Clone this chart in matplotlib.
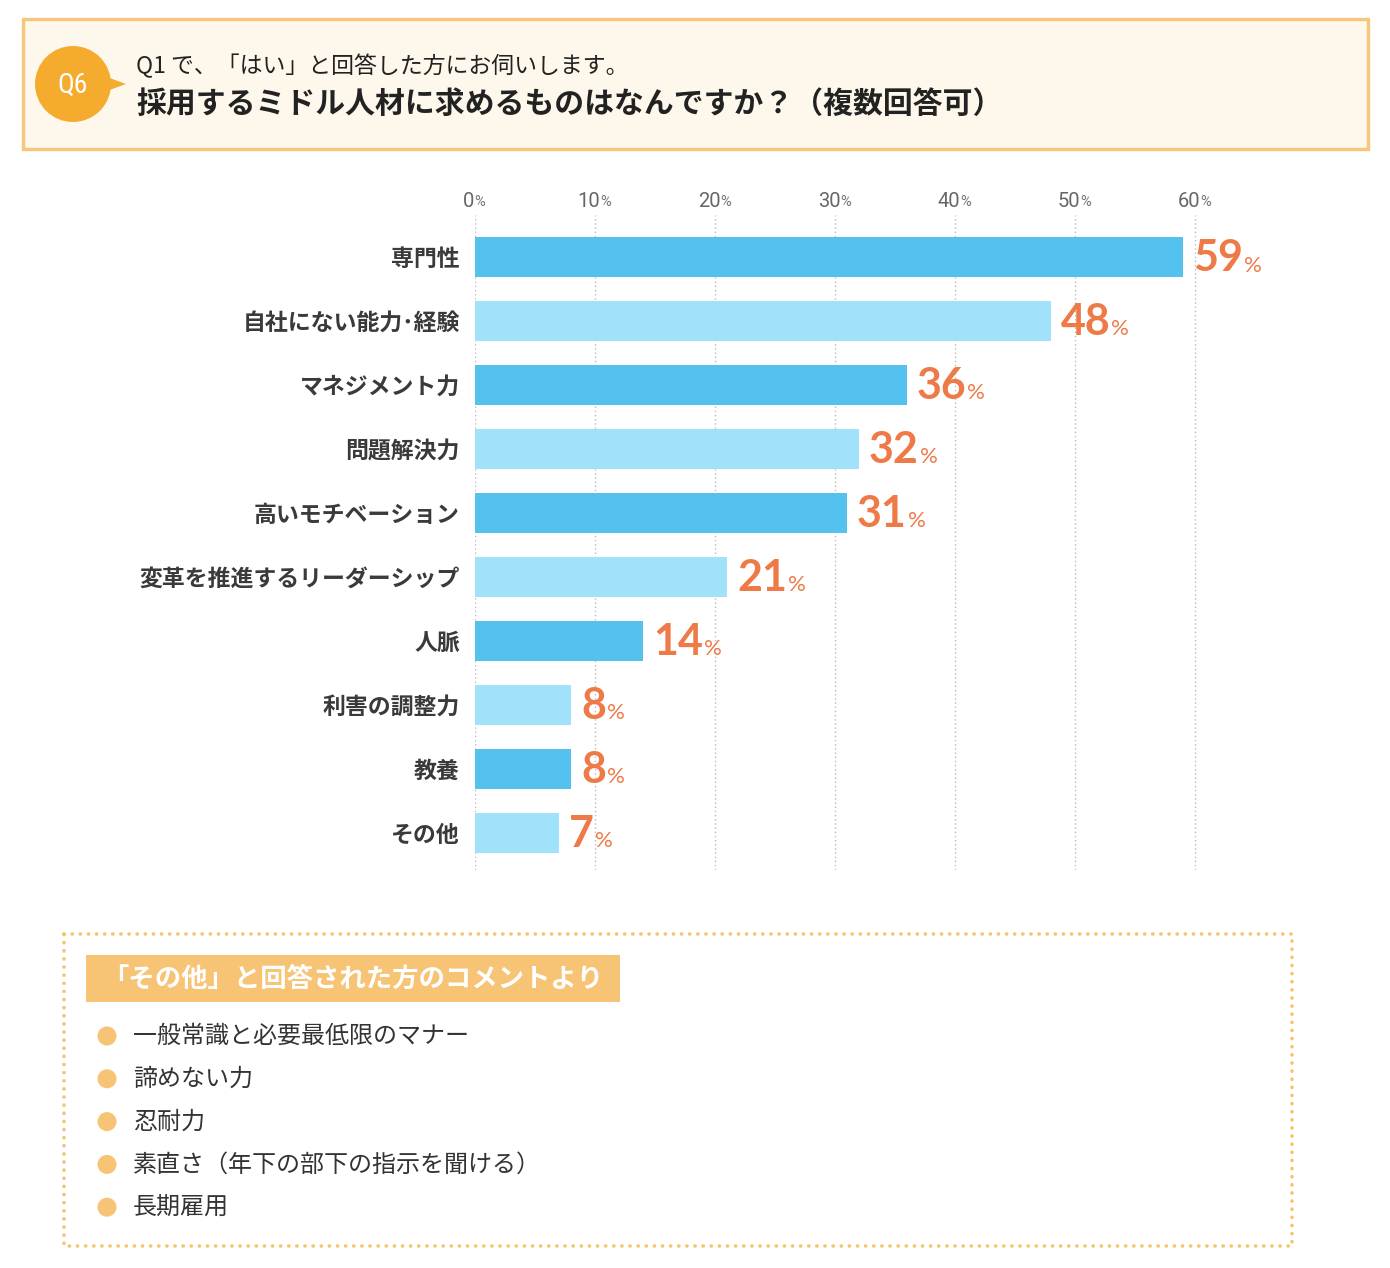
import matplotlib
matplotlib.use("Agg")
import matplotlib.pyplot as plt
from matplotlib.patches import Rectangle, Circle, Polygon
from matplotlib.transforms import blended_transform_factory, offset_copy

plt.rcParams['font.family'] = ['Noto Sans CJK JP', 'DejaVu Sans']

# ---- data ----
categories = ["専門性", "自社にない能力･経験", "マネジメント力", "問題解決力", "高いモチベーション",
              "変革を推進するリーダーシップ", "人脈", "利害の調整力", "教養", "その他"]
values = [59, 48, 36, 32, 31, 21, 14, 8, 8, 7]
xticks = [0, 10, 20, 30, 40, 50, 60]
header_q = "Q6"
header_sub = "Q1 で、「はい」と回答した方にお伺いします。"
header_title = "採用するミドル人材に求めるものはなんですか？（複数回答可）"
comment_title = "「その他」と回答された方のコメントより"
comments = ["一般常識と必要最低限のマナー", "諦めない力", "忍耐力",
            "素直さ（年下の部下の指示を聞ける）", "長期雇用"]

W, H = 1390, 1268
DARK = "#55C1EF"
LIGHT = "#A0E2FA"
ORANGE_TXT = "#EE7A48"
GOLD = "#F6C77B"

fig = plt.figure(figsize=(W / 100, H / 100), dpi=100)
fig.patch.set_facecolor("white")

# background overlay axes in pixel coords
bg = fig.add_axes([0, 0, 1, 1], zorder=0)
bg.set_xlim(0, W)
bg.set_ylim(H, 0)
bg.axis("off")

# header box
bg.add_patch(Rectangle((23, 19), 1345, 130, facecolor="#FDF8EB", edgecolor=GOLD, lw=2.4))
bg.add_patch(Polygon([[104, 76], [126, 84], [104, 92]], closed=True, facecolor="#F5AC2E", edgecolor="none"))
bg.add_patch(Circle((73, 84), 38, facecolor="#F5AC2E", edgecolor="none"))
bg.text(73, 85, header_q, color="white", fontsize=20, ha="center", va="center",
        family=["Roboto Condensed", "Roboto", "DejaVu Sans"])
bg.text(136, 66, header_sub, color="#222222", fontsize=16.5, ha="left", va="center")
bg.text(136, 104, header_title, color="#222222", fontsize=21.5, fontweight="bold", ha="left", va="center")

# comment box (dotted)
x0, y0, x1, y1 = 64, 934, 1292, 1246
bg.plot([x0, x1, x1, x0, x0], [y0, y0, y1, y1, y0], color="#F5C46E", lw=2.6,
        linestyle=(0, (0.05, 2.2)), dash_capstyle="round", solid_capstyle="round")
bg.add_patch(Rectangle((86, 955), 534, 47, facecolor="#F7C476", edgecolor="none"))
bg.text(353, 979, comment_title, color="white", fontsize=19, fontweight="bold", ha="center", va="center")
for i, c in enumerate(comments):
    yy = 1036 + i * 42.8
    bg.add_patch(Circle((107, yy), 9.5, facecolor="#F7C476", edgecolor="none"))
    bg.text(133, yy, c, color="#333333", fontsize=17.3, ha="left", va="center")

# chart axes
ax = fig.add_axes([475 / W, 1 - 870 / H, 840 / W, 655 / H], zorder=2)
ax.patch.set_alpha(0)
ypos = list(range(len(categories)))
colors = [DARK if i % 2 == 0 else LIGHT for i in ypos]
ax.set_xlim(0, 70)
ax.set_ylim(9.58, -0.66)
ax.vlines(xticks, 9.58, -0.66, colors="#BBBBBB", linestyles=(0, (1, 2)), lw=1, zorder=1)
ax.barh(ypos, values, height=0.625, color=colors, zorder=2)
for s in ax.spines.values():
    s.set_visible(False)
ax.set_xticks([])
ax.set_yticks(ypos)
ax.set_yticklabels(categories, fontsize=16.5, fontweight="bold", color="#3A3A3A")
ax.tick_params(axis="y", length=0, pad=11)

# top tick labels
trans = blended_transform_factory(ax.transData, ax.transAxes)
for t in xticks:
    tr = offset_copy(trans, fig=fig, x=-6, y=0, units="dots")
    num = ax.text(t, 1.021, str(t), transform=tr, ha="center", va="center",
                  fontsize=14.5, color="#666666", family=["Roboto", "DejaVu Sans"])
    ax.annotate("%", xy=(1, 0), xycoords=num, xytext=(0, 1), textcoords="offset points",
                ha="left", va="bottom", fontsize=10.5, color="#777777",
                family=["Roboto", "DejaVu Sans"], annotation_clip=False)

# value labels
for y, v in zip(ypos, values):
    tr = offset_copy(ax.transData, fig=fig, x=10, y=0, units="dots")
    num = ax.text(v, y + 0.22, str(v), transform=tr, ha="left", va="baseline",
                  fontsize=31, fontweight="bold", color=ORANGE_TXT,
                  family=["Lato", "DejaVu Sans"])
    ax.annotate("%", xy=(1, 0), xycoords=num, xytext=(0.5, 2), textcoords="offset points",
                ha="left", va="bottom", fontsize=16, color=ORANGE_TXT,
                family=["Lato", "DejaVu Sans"], annotation_clip=False)

fig.savefig("out.png", dpi=100, facecolor="white")
